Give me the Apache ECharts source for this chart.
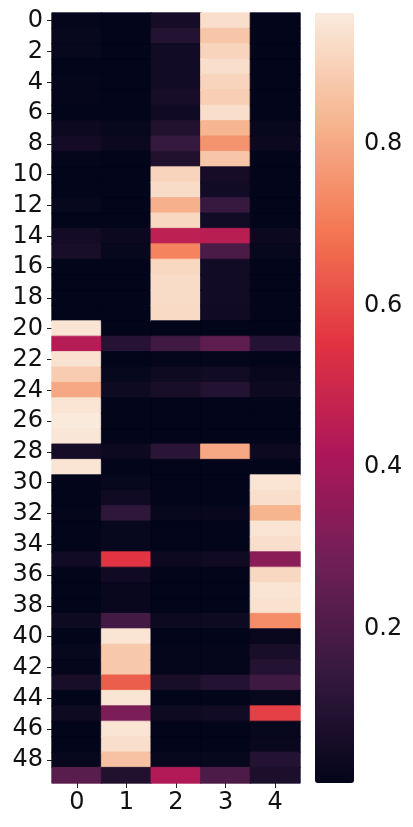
<!DOCTYPE html>
<html>
<head>
<meta charset="utf-8">
<script src="https://cdn.jsdelivr.net/npm/echarts@6/dist/echarts.min.js"></script>
<style>
html,body{margin:0;padding:0;background:#fff;}
#chart{width:413px;height:827px;}
</style>
</head>
<body>
<div id="chart"></div>
<script>
// Column labels and row labels
const colLabels = ['0', '1', '2', '3', '4'];
const rowLabels = Array.from({length: 50}, (_, i) => String(i));

// Cell values, one array per column (rows 0..49)
const col0 = [0.015,0.02,0.02,0.01,0.015,0.015,0.01,0.035,0.055,0.015,
              0.01,0.01,0.02,0.01,0.055,0.07,0.01,0.01,0.01,0.01,
              0.945,0.44,0.94,0.885,0.80,0.945,0.96,0.95,0.06,0.945,
              0.01,0.01,0.015,0.01,0.01,0.05,0.01,0.01,0.01,0.04,
              0.01,0.02,0.015,0.07,0.01,0.04,0.01,0.01,0.02,0.225];
const col1 = [0.01,0.01,0.01,0.01,0.01,0.01,0.01,0.02,0.03,0.01,
              0.01,0.01,0.01,0.01,0.03,0.02,0.01,0.01,0.01,0.01,
              0.01,0.105,0.01,0.02,0.04,0.01,0.01,0.01,0.035,0.01,
              0.02,0.045,0.13,0.02,0.02,0.553,0.045,0.025,0.025,0.175,
              0.945,0.875,0.875,0.64,0.945,0.305,0.945,0.93,0.86,0.09];
const col2 = [0.06,0.095,0.05,0.05,0.05,0.065,0.045,0.09,0.147,0.09,
              0.905,0.925,0.82,0.915,0.46,0.718,0.915,0.925,0.925,0.92,
              0.01,0.17,0.015,0.04,0.07,0.01,0.01,0.01,0.115,0.01,
              0.01,0.01,0.02,0.01,0.01,0.035,0.01,0.01,0.01,0.035,
              0.01,0.015,0.015,0.07,0.01,0.04,0.01,0.01,0.02,0.43];
const col3 = [0.93,0.87,0.905,0.93,0.905,0.89,0.93,0.83,0.755,0.87,
              0.06,0.05,0.15,0.05,0.45,0.194,0.05,0.05,0.05,0.045,
              0.01,0.24,0.015,0.05,0.095,0.01,0.01,0.01,0.80,0.01,
              0.01,0.01,0.025,0.01,0.01,0.045,0.01,0.01,0.01,0.04,
              0.01,0.015,0.015,0.095,0.01,0.05,0.01,0.01,0.02,0.20];
const col4 = [0.01,0.01,0.01,0.01,0.01,0.01,0.01,0.02,0.03,0.01,
              0.01,0.01,0.01,0.01,0.03,0.02,0.01,0.01,0.01,0.01,
              0.01,0.10,0.01,0.025,0.035,0.01,0.01,0.01,0.035,0.01,
              0.945,0.93,0.825,0.945,0.93,0.34,0.915,0.945,0.94,0.74,
              0.025,0.07,0.095,0.165,0.02,0.58,0.02,0.025,0.095,0.075];

// Colour scale range and colorbar ticks
const scaleMin = 0.009;
const scaleMax = 0.962;
const cbarTicks = [0.2, 0.4, 0.6, 0.8];
const rocket = ['#03051a','#35193e','#701f57','#ad1759','#e13342','#f37651','#f6b48f','#faebdd'];

const columns = [col0, col1, col2, col3, col4];
const cells = [];
columns.forEach((col, x) => col.forEach((v, y) => {
  // border in the cell's own colour hides anti-aliasing seams between rows
  const c = echarts.color.lerp((v - scaleMin) / (scaleMax - scaleMin), rocket);
  cells.push({value: [x, y, v], itemStyle: {borderColor: c, borderWidth: 0.8}});
}));

const FONT = 'DejaVu Sans';
const FS = 24;
const chart = echarts.init(document.getElementById('chart'), null, {renderer: 'canvas'});
chart.setOption({
  animation: false,
  backgroundColor: '#ffffff',
  grid: [
    {left: 52, top: 13, width: 248, height: 770},
    {left: 315, top: 13, width: 39, height: 770}
  ],
  xAxis: [
    {
      type: 'category', gridIndex: 0, data: colLabels, position: 'bottom',
      axisLine: {show: false},
      axisTick: {show: true, alignWithLabel: true, length: 5, lineStyle: {color: '#222', width: 1}},
      axisLabel: {fontFamily: FONT, fontSize: FS, color: '#111', margin: 8},
      splitLine: {show: false}
    },
    {type: 'value', gridIndex: 1, show: false, min: 0, max: 1}
  ],
  yAxis: [
    {
      type: 'category', gridIndex: 0, data: rowLabels, inverse: true,
      axisLine: {show: false},
      axisTick: {show: true, alignWithLabel: true, interval: 1, length: 5, lineStyle: {color: '#222', width: 1}},
      axisLabel: {interval: 1, fontFamily: FONT, fontSize: FS, color: '#111', margin: 9},
      splitLine: {show: false}
    },
    {
      type: 'value', gridIndex: 1, position: 'right', min: scaleMin, max: scaleMax,
      axisLine: {show: false},
      splitLine: {show: false},
      axisTick: {show: true, length: 5, customValues: cbarTicks, lineStyle: {color: '#222', width: 1}},
      axisLabel: {customValues: cbarTicks, fontFamily: FONT, fontSize: FS, color: '#111', margin: 10,
                  formatter: v => v.toFixed(1)}
    }
  ],
  visualMap: {
    type: 'continuous',
    seriesIndex: 0,
    min: scaleMin, max: scaleMax,
    calculable: false,
    hoverLink: false,
    orient: 'vertical',
    left: 315, top: 13,
    itemWidth: 39, itemHeight: 770,
    padding: 0,
    text: ['', ''],
    showLabel: false,
    inRange: {color: rocket}
  },
  series: [
    {
      type: 'heatmap', xAxisIndex: 0, yAxisIndex: 0, data: cells,
      emphasis: {disabled: true}
    },
    {
      type: 'line', xAxisIndex: 1, yAxisIndex: 1, data: [], silent: true
    }
  ]
});
</script>
</body>
</html>
